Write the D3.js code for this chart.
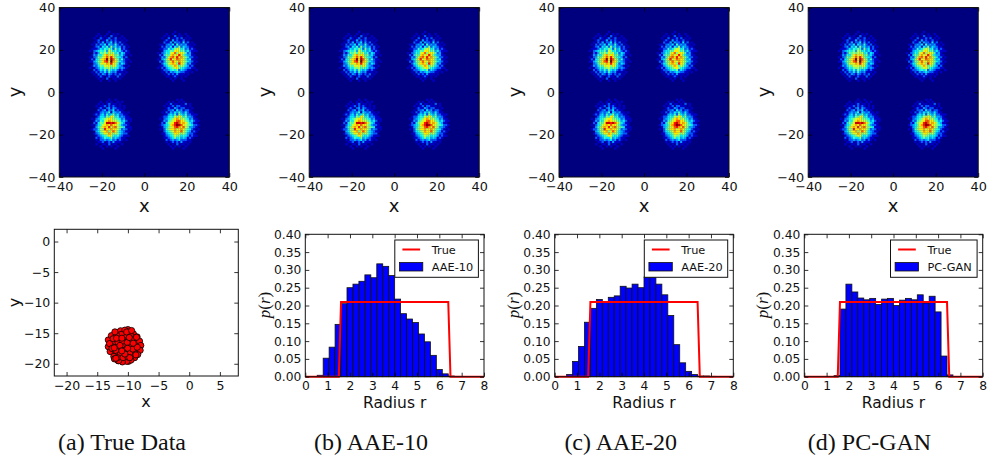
<!DOCTYPE html>
<html><head><meta charset="utf-8">
<script src="https://cdn.jsdelivr.net/npm/d3@7"></script>
<style>
html,body{margin:0;padding:0;background:#fff}
svg{display:block}
text{fill:#111}
</style></head><body>
<svg id="c" width="987" height="459"></svg>
<script>
// ---- data ----
const captions = ["(a) True Data","(b) AAE-10","(c) AAE-20","(d) PC-GAN"];
const heatTicks = [-40,-20,0,20,40];
const scatterXTicks = [-20,-15,-10,-5,0,5];
const scatterYTicks = [-20,-15,-10,-5,0];
const radiusTicks = [0,1,2,3,4,5,6,7,8];
const densityTicks = [0,0.05,0.10,0.15,0.20,0.25,0.30,0.35,0.40];
const trueR = [0,1.5,1.6,6.4,6.5,8];
const trueP = [0,0,0.21,0.21,0,0];
const histAAE10 = [0,0,0.004,0.052,0.083,0.147,0.205,0.25,0.26,0.268,0.286,0.278,0.317,0.31,0.284,0.218,0.177,0.162,0.152,0.12,0.098,0.06,0.02,0.008,0.002,0.001,0,0,0,0];
const histAAE20 = [0,0,0.006,0.043,0.085,0.153,0.192,0.217,0.21,0.223,0.227,0.254,0.249,0.26,0.25,0.28,0.28,0.26,0.23,0.172,0.09,0.039,0.015,0.006,0.002,0.002,0.001,0,0,0];
const histPCGAN = [0,0,0,0,0,0.003,0.19,0.26,0.238,0.221,0.216,0.22,0.203,0.218,0.22,0.2,0.215,0.22,0.216,0.23,0.207,0.226,0.182,0.058,0.005,0,0,0,0,0];
const scatterX = [-11.6,-10.1,-9.2,-12.2,-10.9,-9.6,-12.6,-11.3,-10.0,-8.8,-12.0,-10.6,-9.3,-11.2,-10.0,-8.7,-12.3,-10.7,-9.9,-11.6,-13.2,-13.2,-12.9,-12.7,-13.0,-12.3,-11.8,-11.2,-10.5,-9.8,-9.1,-8.5,-8.1,-7.9,-8.0,-8.4,-8.9,-9.5,-10.2,-10.9,-11.5,-12.2,-12.4,-11.6,-10.9,-10.1,-9.3,-9.0,-9.7,-10.5,-11.2,-12.0,-12.6,-11.7,-10.8,-10.0,-9.2,-9.6,-10.4,-11.1,-11.8,-12.12,-10.2,-9.4,-8.6,-11.85,-10.98,-9.78,-11.3,-12.23,-10.05,-8.48,-9.13,-11.96,-8.7,-10.5,-9.7,-11.0];
const scatterY = [-15.0,-15.6,-16.2,-16.4,-16.9,-17.2,-17.2,-17.8,-18.2,-18.0,-18.6,-18.9,-19.0,-14.8,-14.4,-16.6,-15.6,-15.2,-19.6,-19.5,-16.1,-17.2,-18.0,-15.4,-16.7,-18.8,-14.9,-14.6,-14.5,-14.8,-15.1,-15.6,-16.3,-17.0,-17.8,-18.5,-19.0,-19.4,-19.6,-19.7,-19.5,-19.2,-15.9,-16.5,-16.3,-16.5,-16.0,-18.1,-18.2,-17.9,-18.3,-17.8,-17.5,-19.0,-19.0,-18.9,-17.6,-15.3,-15.3,-15.2,-15.4,-14.78,-14.8,-14.56,-15.66,-15.82,-15.82,-15.7,-17.0,-17.4,-17.46,-17.3,-16.64,-19.1,-18.55,-18.4,-19.0,-17.9];
// binned counts in hex digits, four 24x24 patches of the 80x80 image
const heatOriginX = [-27,5,-26,6];
const heatOriginY = [29,29,-3,-3];
const heatTL = ["000000000010000000000000","000001000100101000000000","000010101002010010000000","000100210120120101000000","000012011302121010100000","000102130224131201000000","001021324143252120100000","000123143526342312010000","001112435465263412100000","010234546376453421210000","000213657586745243110000","001325468a79856342101000","010236579b8c965431200000","00214578ae9db76352110000","01134669bc7ea86432101000","000235787a9c975243100000","001324659786874321010000","010123546675654232100000","000212435364342121000000","001021324253231110100000","000102132132121201000000","000010210121102010000000","000001010200110100000000","000000100010010000000000"];
const heatTR = ["000000000100000000000000","000001001001001000000000","000010100201100100000000","000100201120201010000000","000012103121120100000000","000021130322141201000000","001102324152323110100000","000213241436243211000000","001122534677452312100000","000134465897563421110000","010235478b69875231000000","00214659a78c964331100000","0013257ab9c8a76422010000","0103468c79ba985341100000","00213669b87a876432010000","00024578a96c975231100000","001134667a85764312000000","010213456786543221100000","000122345462432110010000","000102132343221101000000","000010212131110100000000","000001101210101000000000","000000010100100000000000","000000001000010000000000"];
const heatBL = ["000000000100100000000000","000001001010010100000000","000010101201101000000000","000101120212101010000000","000012102313211010000000","000021231324121100000000","000112323514323110100000","001213425346342211000000","000124436587452321100000","010234567896654231110000","001325478a97765342010000","00214658ddcdb96431100000","01024579a8b9875322100000","0013568a9c7ab76541110000","0122476c98a9875232010000","00034678a69b864321100000","001235697a86764322000000","000123456875453211100000","000212354463432110000000","000102232342312101000000","000011201213111000000000","000100110201100100000000","000001001010010000000000","000000100000100000000000"];
const heatBR = ["000000000101000000000000","000001010010100000000000","000010201101020100000000","000101120221110100000000","000012113212201010000000","000102231423122100000000","001021324353242110000000","000113435264352211100000","001224547687463321000000","010234568a96754231100000","001325679bb8865342110000","00214679cdb9a86431100000","0123458acedb976542210000","00134679bca8b76332100000","01025689a79a865421010000","00024567a98b764312100000","001134568976753221000000","000123457664543121100000","000112346453431210000000","000021232342221100000000","000010121213110100000000","000001010201101000000000","000000101010010000000000","000000010000100000000000"];
const heatPatches = [heatTL,heatTR,heatBL,heatBR];
const jetStops = ["#00007f","#0000ff","#007fff","#00ffff","#7fff7f","#ffff00","#ff7f00","#ff0000","#7f0000"];

// ---- drawing ----
const svg = d3.select("#c");
const font = "'DejaVu Sans',sans-serif";
const jet = d3.scaleLinear().domain(jetStops.map((_,i)=>i/(jetStops.length-1)*14)).range(jetStops).clamp(true);
const defs = svg.append("defs");
defs.append("filter").attr("id","soft").attr("x","-2%").attr("y","-2%").attr("width","104%").attr("height","104%")
  .append("feGaussianBlur").attr("stdDeviation",0.3);

function frame(g,x,y,xT,yT,xFmt,yFmt,pad,size){
  const [x0,x1]=x.range(),[y1,y0]=y.range();
  const bottom=g.append("g").attr("transform",`translate(0,${y1})`).call(d3.axisBottom(x).tickValues(xT).tickFormat(xFmt).tickSizeInner(-4).tickSizeOuter(0).tickPadding(pad));
  const top=g.append("g").attr("transform",`translate(0,${y0})`).call(d3.axisTop(x).tickValues(xT).tickFormat("").tickSizeInner(-4).tickSizeOuter(0));
  const left=g.append("g").attr("transform",`translate(${x0},0)`).call(d3.axisLeft(y).tickValues(yT).tickFormat(yFmt).tickSizeInner(-4).tickSizeOuter(0).tickPadding(pad-1));
  const right=g.append("g").attr("transform",`translate(${x1},0)`).call(d3.axisRight(y).tickValues(yT).tickFormat("").tickSizeInner(-4).tickSizeOuter(0));
  [bottom,top,left,right].forEach(a=>{
    a.select(".domain").remove();
    a.selectAll("text").attr("font-family",font).attr("font-size",size).attr("fill","#111");
    a.selectAll("line").attr("stroke","#000").attr("stroke-width",0.8);
  });
  g.append("rect").attr("x",x0).attr("y",y0).attr("width",x1-x0).attr("height",y1-y0).attr("fill","none").attr("stroke","#111").attr("stroke-width",1);
}
const intFmt = d=>d3.format("d")(d).replace("-","\u2212");

function label(g,x,y,t,size,rot){
  const el=g.append("text").attr("font-family",font).attr("font-size",size).attr("text-anchor","middle").text(t);
  if(rot) el.attr("transform",`translate(${x},${y}) rotate(-90)`); else el.attr("x",x).attr("y",y);
  return el;
}

// heatmaps
const heatLefts=[59.3,309.2,559,808.2];
const heatCells=[];
heatPatches.forEach((rows,p)=>rows.forEach((row,r)=>[...row].forEach((ch,c)=>{
  const v=parseInt(ch,16);
  if(v>0) heatCells.push({x:heatOriginX[p]+c,y:heatOriginY[p]-r,v:v+(v>=2&&v<=8?1:0)});
})));
heatLefts.forEach(L=>{
  const g=svg.append("g");
  const x=d3.scaleLinear().domain([-40,40]).range([L,L+170]);
  const y=d3.scaleLinear().domain([-40,40]).range([177,7.5]);
  const h=g.append("g").attr("filter","url(#soft)");
  h.append("rect").attr("x",x(-40)).attr("y",y(40)).attr("width",170).attr("height",169.5).attr("fill",jet(0));
  h.selectAll("rect.c").data(heatCells).join("rect").attr("class","c")
    .attr("x",d=>x(d.x)).attr("y",d=>y(d.y)).attr("width",x(1)-x(0)+0.2).attr("height",y(0)-y(1)+0.2)
    .attr("fill",d=>jet(d.v));
  frame(g,x,y,heatTicks,heatTicks,intFmt,intFmt,5,12.8);
  label(g,L+85,211.5,"x",18);
  label(g,L-38.5,92,"y",18,true);
});

// scatter
{
  const g=svg.append("g");
  const x=d3.scaleLinear().domain([-22,8]).range([54.3,238.3]);
  const y=d3.scaleLinear().domain([-22,2]).range([376,229.3]);
  g.selectAll("circle").data(scatterX).join("circle")
    .attr("cx",d=>x(d)).attr("cy",(d,i)=>y(scatterY[i])).attr("r",3.1)
    .attr("fill","#ff0000").attr("stroke","#000").attr("stroke-width",0.8);
  frame(g,x,y,scatterXTicks,scatterYTicks,intFmt,intFmt,5,12.5);
  label(g,146,407,"x",16);
  label(g,20,302.5,"y",16,true);
}

// histograms
const histPanels=[
 {L:305.3,R:484,vals:histAAE10,name:"AAE-10",w:83.6,lx:270},
 {L:554.7,R:733.3,vals:histAAE20,name:"AAE-20",w:83.4,lx:519},
 {L:804.3,R:982.7,vals:histPCGAN,name:"PC-GAN",w:86.6,lx:768}];
histPanels.forEach(P=>{
  const g=svg.append("g");
  const x=d3.scaleLinear().domain([0,8]).range([P.L,P.R]);
  const y=d3.scaleLinear().domain([0,0.4]).range([376.7,234.3]);
  const bw=8/P.vals.length;
  g.selectAll("rect.b").data(P.vals).join("rect").attr("class","b")
    .attr("x",(d,i)=>x(i*bw)).attr("y",d=>y(d)).attr("width",x(bw)-x(0)).attr("height",d=>y(0)-y(d))
    .attr("fill","#0000ff").attr("stroke","#111").attr("stroke-width",d=>d>0?0.8:0);
  const line=d3.line().x(d=>x(d)).y((d,i)=>y(trueP[i]));
  g.append("path").attr("d",line(trueR)).attr("fill","none").attr("stroke","#ff0000").attr("stroke-width",2).attr("stroke-linejoin","miter");
  frame(g,x,y,radiusTicks,densityTicks,d3.format("d"),d3.format(".2f"),5,12.3);
  label(g,(P.L+P.R)/2,408,"Radius r",15.5);
  const t=label(g,P.lx,305,"",17,true).attr("font-family","'Liberation Serif',serif");
  t.append("tspan").attr("font-style","italic").text("p");
  t.append("tspan").text("(");
  t.append("tspan").attr("font-style","italic").text("r");
  t.append("tspan").text(")");
  // legend
  const bx=P.R-5.6-P.w, leg=g.append("g");
  leg.append("rect").attr("x",bx).attr("y",240).attr("width",P.w).attr("height",37.3).attr("fill","#fff").attr("stroke","#111").attr("stroke-width",1);
  leg.append("line").attr("x1",bx+7.6).attr("x2",bx+25.3).attr("y1",249.5).attr("y2",249.5).attr("stroke","#ff0000").attr("stroke-width",2);
  leg.append("rect").attr("x",bx+4.6).attr("y",262.5).attr("width",23.4).attr("height",8.5).attr("fill","#0000ff").attr("stroke","#111").attr("stroke-width",0.8);
  leg.append("text").attr("x",bx+37).attr("y",253.6).attr("font-family",font).attr("font-size",11.3).text("True");
  leg.append("text").attr("x",bx+37).attr("y",271.2).attr("font-family",font).attr("font-size",11.3).text(P.name);
});

// captions
const capX=[122,371,620.7,869.5];
captions.forEach((c,i)=>{
  svg.append("text").attr("x",capX[i]).attr("y",450).attr("text-anchor","middle")
    .attr("font-family","'Liberation Serif',serif").attr("font-size",24).text(c);
});
</script>
</body></html>
